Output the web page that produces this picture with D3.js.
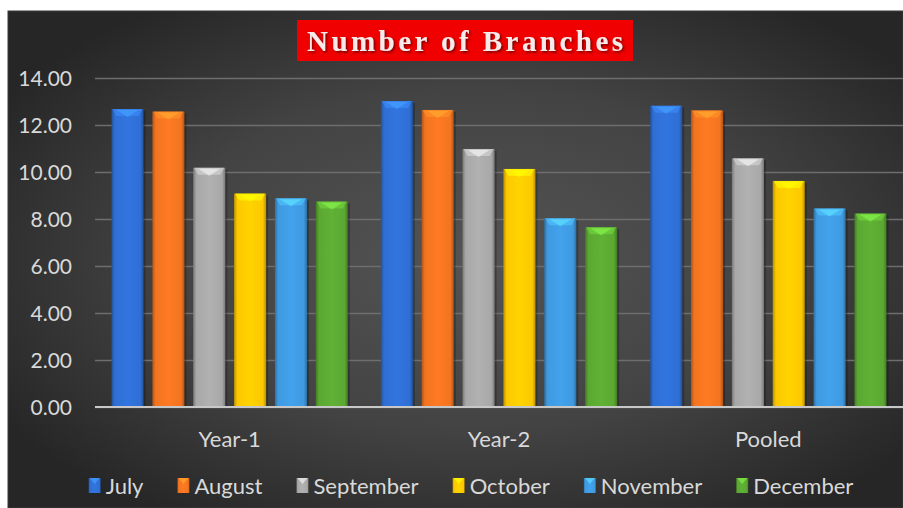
<!DOCTYPE html>
<html><head><meta charset="utf-8">
<script src="https://cdn.jsdelivr.net/npm/d3@7"></script>
<style>html,body{margin:0;padding:0;background:#fff;}svg{display:block;}</style>
</head><body>
<svg id="c" width="903" height="508"></svg>
<script>
const categories = ["Year-1", "Year-2", "Pooled"];
const months = ["July", "August", "September", "October", "November", "December"];
const july      = [12.68, 13.02, 12.82];
const august    = [12.57, 12.64, 12.62];
const september = [10.18, 10.98, 10.58];
const october   = [9.08, 10.13, 9.62];
const november  = [8.88, 8.03, 8.45];
const december  = [8.74, 7.65, 8.23];
const seriesValues = [july, august, september, october, november, december];
const yTicks = [0, 2, 4, 6, 8, 10, 12, 14];
const titleText = "Number of Branches";

const colors = ["#2f6fd4", "#f27420", "#a8a8a8", "#fcc800", "#3f9ae0", "#5ba832"];

const W = 903, H = 508;
const svg = d3.select("#c");
const defs = svg.append("defs");

const bg = defs.append("radialGradient").attr("id", "bg")
  .attr("cx", "0.52").attr("cy", "0.5").attr("r", "0.62");
bg.append("stop").attr("offset", "0").attr("stop-color", "#545454");
bg.append("stop").attr("offset", "0.55").attr("stop-color", "#434343");
bg.append("stop").attr("offset", "1").attr("stop-color", "#262626");

svg.append("rect").attr("x", 8).attr("y", 11).attr("width", W - 8).attr("height", H - 11)
  .attr("fill", "url(#bg)").attr("stroke", "#3a3a3a").attr("stroke-width", 1);

colors.forEach((c, i) => {
  const g = defs.append("linearGradient").attr("id", "bar" + i)
    .attr("x1", "0").attr("x2", "1").attr("y1", "0").attr("y2", "0");
  const dark = d3.color(c).darker(0.9), mid = d3.color(c), light = d3.color(c).brighter(0.15);
  g.append("stop").attr("offset", "0").attr("stop-color", dark);
  g.append("stop").attr("offset", "0.1").attr("stop-color", mid);
  g.append("stop").attr("offset", "0.5").attr("stop-color", light);
  g.append("stop").attr("offset", "0.9").attr("stop-color", mid);
  g.append("stop").attr("offset", "1").attr("stop-color", dark);
});

const shadow = defs.append("filter").attr("id", "ts").attr("x", "-10%").attr("y", "-30%").attr("width", "130%").attr("height", "160%");
shadow.append("feDropShadow").attr("dx", 1.5).attr("dy", 1.5).attr("stdDeviation", 1).attr("flood-color", "#500").attr("flood-opacity", 0.8);

const FONT = "Lato, 'Open Sans', sans-serif";
const margin = {left: 95, right: 0, top: 78, bottom: 101};
const x0 = d3.scaleBand().domain(categories).range([margin.left, W]).paddingInner(0).paddingOuter(0);
const x1 = d3.scaleBand().domain(months).range([16.5, x0.bandwidth() - 16.5]).paddingInner(0.215).paddingOuter(0);
const y = d3.scaleLinear().domain([0, 14]).range([H - margin.bottom, margin.top]);

const yAxis = d3.axisLeft(y).tickValues(yTicks).tickFormat(d3.format(".2f")).tickSize(-(W - margin.left)).tickPadding(23);
const ga = svg.append("g").attr("transform", `translate(${margin.left},0)`).call(yAxis);
ga.select(".domain").remove();
ga.selectAll(".tick line").attr("stroke", "#6e6e6e").attr("stroke-width", 1.5);
ga.selectAll(".tick text").attr("fill", "#d9d9d9").attr("font-family", FONT)
  .attr("font-size", 21).attr("dy", "0.35em");

const groups = svg.append("g").selectAll("g").data(categories).join("g")
  .attr("transform", d => `translate(${x0(d)},0)`);
groups.each(function(cat, ci) {
  const g = d3.select(this);
  months.forEach((m, si) => {
    const v = seriesValues[si][ci];
    const bx = x1(m), bw = x1.bandwidth(), by = y(v), bh = y(0) - y(v);
    g.append("rect").attr("x", bx + 2).attr("y", by + 2).attr("width", bw).attr("height", bh - 2)
      .attr("fill", "#000").attr("opacity", 0.25);
    g.append("rect").attr("x", bx).attr("y", by).attr("width", bw).attr("height", bh)
      .attr("fill", `url(#bar${si})`);
    const lc = d3.color(colors[si]).brighter(0.7);
    g.append("path")
      .attr("d", `M${bx + 1},${by} L${bx + bw - 1},${by} L${bx + bw - 5},${by + 7} L${bx + 5},${by + 7} Z`)
      .attr("fill", lc).attr("opacity", 0.6);
    g.append("path")
      .attr("d", `M${bx + 5},${by + 1} L${bx + bw - 5},${by + 1} L${bx + bw / 2},${by + 8} Z`)
      .attr("fill", d3.color(colors[si]).brighter(1.2)).attr("opacity", 0.5);
  });
});

svg.append("line").attr("x1", margin.left).attr("x2", W).attr("y1", y(0)).attr("y2", y(0))
  .attr("stroke", "#c8c8c8").attr("stroke-width", 2);

const xAxis = d3.axisBottom(x0).tickSize(0).tickPadding(24);
const gx = svg.append("g").attr("transform", `translate(0,${y(0)})`).call(xAxis);
gx.select(".domain").remove();
gx.selectAll("text").attr("fill", "#d9d9d9").attr("font-family", FONT).attr("font-size", 22);

const tg = svg.append("g");
tg.append("rect").attr("x", 297).attr("y", 20).attr("width", 336).attr("height", 41).attr("fill", "#f00000");
tg.append("text").attr("x", 465).attr("y", 51).attr("text-anchor", "middle")
  .attr("font-family", "'Liberation Serif', 'DejaVu Serif', serif").attr("font-weight", "bold")
  .attr("font-size", 29).attr("fill", "#f8eaea").attr("textLength", 316).attr("lengthAdjust", "spacing")
  .attr("filter", "url(#ts)").text(titleText);

const lg = svg.append("g").attr("font-family", FONT).attr("font-size", 22);
const items = [];
let cx = 0;
const GAP = 34;
months.forEach((m, i) => {
  const it = lg.append("g");
  it.append("rect").attr("x", 0).attr("y", -8).attr("width", 12).attr("height", 15).attr("fill", `url(#bar${i})`);
  it.append("path").attr("d", "M1,-8 L11,-8 L6,-2 Z").attr("fill", d3.color(colors[i]).brighter(1)).attr("opacity", 0.7);
  const t = it.append("text").attr("x", 17).attr("y", 0).attr("dy", "0.35em").attr("fill", "#d9d9d9").text(m);
  const w = 17 + t.node().getComputedTextLength();
  items.push({it, x: cx});
  cx += w + GAP;
});
const totalW = cx - GAP;
const startX = 471 - totalW / 2;
items.forEach(o => o.it.attr("transform", `translate(${startX + o.x},486)`));
</script>
</body></html>
